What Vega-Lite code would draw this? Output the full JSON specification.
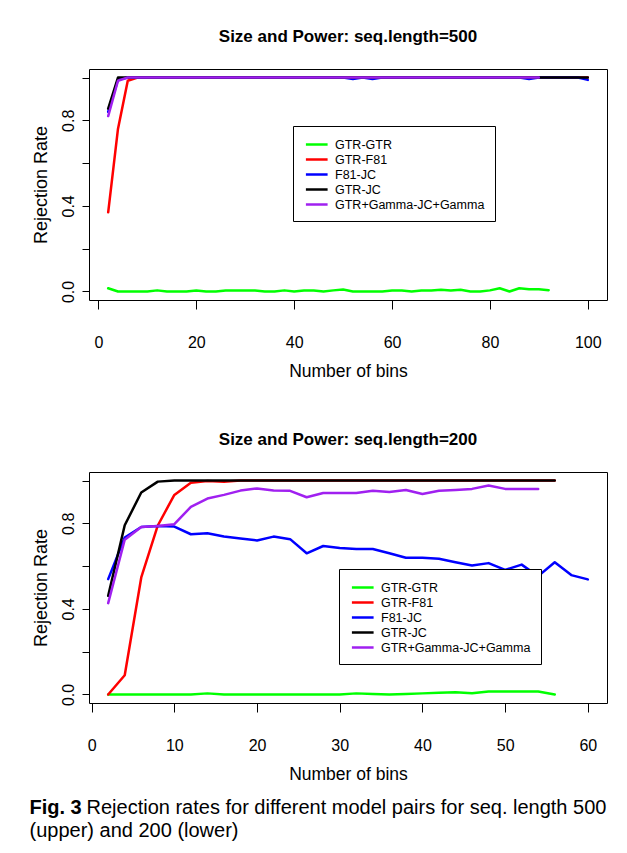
{
  "$schema": "https://vega.github.io/schema/vega-lite/v6.json",
  "padding": {"left": 29, "top": 27, "right": 5, "bottom": 5},
  "background": "white",
  "datasets": {
    "d500": [
      {"model": "GTR-GTR", "bins": 2, "rate": 0.015}, {"model": "GTR-GTR", "bins": 4, "rate": 0}, {"model": "GTR-GTR", "bins": 6, "rate": 0}, {"model": "GTR-GTR", "bins": 8, "rate": 0}, {"model": "GTR-GTR", "bins": 10, "rate": 0},
      {"model": "GTR-GTR", "bins": 12, "rate": 0.005}, {"model": "GTR-GTR", "bins": 14, "rate": 0}, {"model": "GTR-GTR", "bins": 16, "rate": 0}, {"model": "GTR-GTR", "bins": 18, "rate": 0}, {"model": "GTR-GTR", "bins": 20, "rate": 0.004},
      {"model": "GTR-GTR", "bins": 22, "rate": 0}, {"model": "GTR-GTR", "bins": 24, "rate": 0}, {"model": "GTR-GTR", "bins": 26, "rate": 0.004}, {"model": "GTR-GTR", "bins": 28, "rate": 0.004}, {"model": "GTR-GTR", "bins": 30, "rate": 0.004},
      {"model": "GTR-GTR", "bins": 32, "rate": 0.004}, {"model": "GTR-GTR", "bins": 34, "rate": 0}, {"model": "GTR-GTR", "bins": 36, "rate": 0}, {"model": "GTR-GTR", "bins": 38, "rate": 0.005}, {"model": "GTR-GTR", "bins": 40, "rate": 0},
      {"model": "GTR-GTR", "bins": 42, "rate": 0.004}, {"model": "GTR-GTR", "bins": 44, "rate": 0.004}, {"model": "GTR-GTR", "bins": 46, "rate": 0}, {"model": "GTR-GTR", "bins": 48, "rate": 0.005}, {"model": "GTR-GTR", "bins": 50, "rate": 0.009},
      {"model": "GTR-GTR", "bins": 52, "rate": 0}, {"model": "GTR-GTR", "bins": 54, "rate": 0}, {"model": "GTR-GTR", "bins": 56, "rate": 0}, {"model": "GTR-GTR", "bins": 58, "rate": 0}, {"model": "GTR-GTR", "bins": 60, "rate": 0.004},
      {"model": "GTR-GTR", "bins": 62, "rate": 0.004}, {"model": "GTR-GTR", "bins": 64, "rate": 0}, {"model": "GTR-GTR", "bins": 66, "rate": 0.004}, {"model": "GTR-GTR", "bins": 68, "rate": 0.004}, {"model": "GTR-GTR", "bins": 70, "rate": 0.008},
      {"model": "GTR-GTR", "bins": 72, "rate": 0.004}, {"model": "GTR-GTR", "bins": 74, "rate": 0.008}, {"model": "GTR-GTR", "bins": 76, "rate": 0}, {"model": "GTR-GTR", "bins": 78, "rate": 0}, {"model": "GTR-GTR", "bins": 80, "rate": 0.005},
      {"model": "GTR-GTR", "bins": 82, "rate": 0.015}, {"model": "GTR-GTR", "bins": 84, "rate": 0}, {"model": "GTR-GTR", "bins": 86, "rate": 0.015}, {"model": "GTR-GTR", "bins": 88, "rate": 0.01}, {"model": "GTR-GTR", "bins": 90, "rate": 0.01},
      {"model": "GTR-GTR", "bins": 92, "rate": 0.006},

      {"model": "GTR-F81", "bins": 2, "rate": 0.37}, {"model": "GTR-F81", "bins": 4, "rate": 0.76}, {"model": "GTR-F81", "bins": 6, "rate": 0.985}, {"model": "GTR-F81", "bins": 8, "rate": 1}, {"model": "GTR-F81", "bins": 10, "rate": 1},
      {"model": "GTR-F81", "bins": 20, "rate": 1}, {"model": "GTR-F81", "bins": 40, "rate": 1}, {"model": "GTR-F81", "bins": 60, "rate": 1}, {"model": "GTR-F81", "bins": 80, "rate": 1}, {"model": "GTR-F81", "bins": 100, "rate": 1},

      {"model": "F81-JC", "bins": 2, "rate": 0.84}, {"model": "F81-JC", "bins": 4, "rate": 0.99}, {"model": "F81-JC", "bins": 6, "rate": 1}, {"model": "F81-JC", "bins": 50, "rate": 1}, {"model": "F81-JC", "bins": 52, "rate": 0.993},
      {"model": "F81-JC", "bins": 54, "rate": 1}, {"model": "F81-JC", "bins": 56, "rate": 0.993}, {"model": "F81-JC", "bins": 58, "rate": 1}, {"model": "F81-JC", "bins": 86, "rate": 1}, {"model": "F81-JC", "bins": 88, "rate": 0.993},
      {"model": "F81-JC", "bins": 90, "rate": 1}, {"model": "F81-JC", "bins": 98, "rate": 1}, {"model": "F81-JC", "bins": 100, "rate": 0.989},

      {"model": "GTR-JC", "bins": 2, "rate": 0.855}, {"model": "GTR-JC", "bins": 4, "rate": 1}, {"model": "GTR-JC", "bins": 20, "rate": 1}, {"model": "GTR-JC", "bins": 40, "rate": 1}, {"model": "GTR-JC", "bins": 60, "rate": 1},
      {"model": "GTR-JC", "bins": 80, "rate": 1}, {"model": "GTR-JC", "bins": 100, "rate": 1},

      {"model": "GTR+Gamma-JC+Gamma", "bins": 2, "rate": 0.82}, {"model": "GTR+Gamma-JC+Gamma", "bins": 4, "rate": 0.985}, {"model": "GTR+Gamma-JC+Gamma", "bins": 6, "rate": 1}, {"model": "GTR+Gamma-JC+Gamma", "bins": 30, "rate": 1},
      {"model": "GTR+Gamma-JC+Gamma", "bins": 60, "rate": 1}, {"model": "GTR+Gamma-JC+Gamma", "bins": 90, "rate": 1}
    ],
    "d200": [
      {"model": "GTR-GTR", "bins": 2, "rate": 0}, {"model": "GTR-GTR", "bins": 4, "rate": 0}, {"model": "GTR-GTR", "bins": 6, "rate": 0}, {"model": "GTR-GTR", "bins": 8, "rate": 0}, {"model": "GTR-GTR", "bins": 10, "rate": 0},
      {"model": "GTR-GTR", "bins": 12, "rate": 0}, {"model": "GTR-GTR", "bins": 14, "rate": 0.005}, {"model": "GTR-GTR", "bins": 16, "rate": 0}, {"model": "GTR-GTR", "bins": 18, "rate": 0}, {"model": "GTR-GTR", "bins": 20, "rate": 0},
      {"model": "GTR-GTR", "bins": 22, "rate": 0}, {"model": "GTR-GTR", "bins": 24, "rate": 0}, {"model": "GTR-GTR", "bins": 26, "rate": 0}, {"model": "GTR-GTR", "bins": 28, "rate": 0}, {"model": "GTR-GTR", "bins": 30, "rate": 0},
      {"model": "GTR-GTR", "bins": 32, "rate": 0.005}, {"model": "GTR-GTR", "bins": 34, "rate": 0.002}, {"model": "GTR-GTR", "bins": 36, "rate": 0}, {"model": "GTR-GTR", "bins": 38, "rate": 0.002}, {"model": "GTR-GTR", "bins": 40, "rate": 0.005},
      {"model": "GTR-GTR", "bins": 42, "rate": 0.008}, {"model": "GTR-GTR", "bins": 44, "rate": 0.01}, {"model": "GTR-GTR", "bins": 46, "rate": 0.006}, {"model": "GTR-GTR", "bins": 48, "rate": 0.014}, {"model": "GTR-GTR", "bins": 50, "rate": 0.014},
      {"model": "GTR-GTR", "bins": 52, "rate": 0.014}, {"model": "GTR-GTR", "bins": 54, "rate": 0.014}, {"model": "GTR-GTR", "bins": 56, "rate": 0},

      {"model": "GTR-F81", "bins": 2, "rate": 0}, {"model": "GTR-F81", "bins": 4, "rate": 0.09}, {"model": "GTR-F81", "bins": 6, "rate": 0.547}, {"model": "GTR-F81", "bins": 8, "rate": 0.79}, {"model": "GTR-F81", "bins": 10, "rate": 0.933},
      {"model": "GTR-F81", "bins": 12, "rate": 0.99}, {"model": "GTR-F81", "bins": 14, "rate": 0.998}, {"model": "GTR-F81", "bins": 16, "rate": 0.994}, {"model": "GTR-F81", "bins": 18, "rate": 1}, {"model": "GTR-F81", "bins": 30, "rate": 1},
      {"model": "GTR-F81", "bins": 44, "rate": 1}, {"model": "GTR-F81", "bins": 56, "rate": 1},

      {"model": "F81-JC", "bins": 2, "rate": 0.539}, {"model": "F81-JC", "bins": 4, "rate": 0.734}, {"model": "F81-JC", "bins": 6, "rate": 0.783}, {"model": "F81-JC", "bins": 8, "rate": 0.788}, {"model": "F81-JC", "bins": 10, "rate": 0.785},
      {"model": "F81-JC", "bins": 12, "rate": 0.749}, {"model": "F81-JC", "bins": 14, "rate": 0.754}, {"model": "F81-JC", "bins": 16, "rate": 0.738}, {"model": "F81-JC", "bins": 18, "rate": 0.729}, {"model": "F81-JC", "bins": 20, "rate": 0.72},
      {"model": "F81-JC", "bins": 22, "rate": 0.738}, {"model": "F81-JC", "bins": 24, "rate": 0.726}, {"model": "F81-JC", "bins": 26, "rate": 0.66}, {"model": "F81-JC", "bins": 28, "rate": 0.694}, {"model": "F81-JC", "bins": 30, "rate": 0.685},
      {"model": "F81-JC", "bins": 32, "rate": 0.68}, {"model": "F81-JC", "bins": 34, "rate": 0.68}, {"model": "F81-JC", "bins": 36, "rate": 0.66}, {"model": "F81-JC", "bins": 38, "rate": 0.639}, {"model": "F81-JC", "bins": 40, "rate": 0.639},
      {"model": "F81-JC", "bins": 42, "rate": 0.634}, {"model": "F81-JC", "bins": 44, "rate": 0.618}, {"model": "F81-JC", "bins": 46, "rate": 0.603}, {"model": "F81-JC", "bins": 48, "rate": 0.614}, {"model": "F81-JC", "bins": 50, "rate": 0.582},
      {"model": "F81-JC", "bins": 52, "rate": 0.607}, {"model": "F81-JC", "bins": 54, "rate": 0.553}, {"model": "F81-JC", "bins": 56, "rate": 0.618}, {"model": "F81-JC", "bins": 58, "rate": 0.558}, {"model": "F81-JC", "bins": 60, "rate": 0.538},

      {"model": "GTR-JC", "bins": 2, "rate": 0.461}, {"model": "GTR-JC", "bins": 4, "rate": 0.791}, {"model": "GTR-JC", "bins": 6, "rate": 0.944}, {"model": "GTR-JC", "bins": 8, "rate": 0.995}, {"model": "GTR-JC", "bins": 10, "rate": 1},
      {"model": "GTR-JC", "bins": 30, "rate": 1}, {"model": "GTR-JC", "bins": 56, "rate": 1},

      {"model": "GTR+Gamma-JC+Gamma", "bins": 2, "rate": 0.427}, {"model": "GTR+Gamma-JC+Gamma", "bins": 4, "rate": 0.723}, {"model": "GTR+Gamma-JC+Gamma", "bins": 6, "rate": 0.783}, {"model": "GTR+Gamma-JC+Gamma", "bins": 8, "rate": 0.788},
      {"model": "GTR+Gamma-JC+Gamma", "bins": 10, "rate": 0.796}, {"model": "GTR+Gamma-JC+Gamma", "bins": 12, "rate": 0.877}, {"model": "GTR+Gamma-JC+Gamma", "bins": 14, "rate": 0.916}, {"model": "GTR+Gamma-JC+Gamma", "bins": 16, "rate": 0.933},
      {"model": "GTR+Gamma-JC+Gamma", "bins": 18, "rate": 0.953}, {"model": "GTR+Gamma-JC+Gamma", "bins": 20, "rate": 0.963}, {"model": "GTR+Gamma-JC+Gamma", "bins": 22, "rate": 0.953}, {"model": "GTR+Gamma-JC+Gamma", "bins": 24, "rate": 0.952},
      {"model": "GTR+Gamma-JC+Gamma", "bins": 26, "rate": 0.922}, {"model": "GTR+Gamma-JC+Gamma", "bins": 28, "rate": 0.942}, {"model": "GTR+Gamma-JC+Gamma", "bins": 30, "rate": 0.942}, {"model": "GTR+Gamma-JC+Gamma", "bins": 32, "rate": 0.942},
      {"model": "GTR+Gamma-JC+Gamma", "bins": 34, "rate": 0.952}, {"model": "GTR+Gamma-JC+Gamma", "bins": 36, "rate": 0.947}, {"model": "GTR+Gamma-JC+Gamma", "bins": 38, "rate": 0.956}, {"model": "GTR+Gamma-JC+Gamma", "bins": 40, "rate": 0.937},
      {"model": "GTR+Gamma-JC+Gamma", "bins": 42, "rate": 0.952}, {"model": "GTR+Gamma-JC+Gamma", "bins": 44, "rate": 0.956}, {"model": "GTR+Gamma-JC+Gamma", "bins": 46, "rate": 0.961}, {"model": "GTR+Gamma-JC+Gamma", "bins": 48, "rate": 0.977},
      {"model": "GTR+Gamma-JC+Gamma", "bins": 50, "rate": 0.961}, {"model": "GTR+Gamma-JC+Gamma", "bins": 52, "rate": 0.961}, {"model": "GTR+Gamma-JC+Gamma", "bins": 54, "rate": 0.961}
    ],
    "caption": [
      {"line": 1, "bold": "Fig. 3", "rest": "Rejection rates for different model pairs for seq. length 500"},
      {"line": 2, "bold": "", "rest": "(upper) and 200 (lower)"}
    ]
  },
  "vconcat": [
    {
      "vconcat": [
        {
          "title": {"text": "Size and Power: seq.length=500", "offset": 23},
          "width": 518,
          "height": 231,
          "data": {"name": "d500"},
          "mark": {"type": "line", "strokeWidth": 2.5, "strokeCap": "round", "strokeJoin": "round"},
          "encoding": {
            "x": {"field": "bins", "type": "quantitative", "scale": {"domain": [-1.92, 103.92], "nice": false, "zero": false},
                  "axis": {"values": [0, 20, 40, 60, 80, 100], "title": "Number of bins"}},
            "y": {"field": "rate", "type": "quantitative", "scale": {"domain": [-0.04, 1.04], "nice": false, "zero": false},
                  "axis": {"values": [0, 0.2, 0.4, 0.6, 0.8, 1], "format": ".1f", "labelExpr": "indexof(['0.0','0.4','0.8'], datum.label) >= 0 ? datum.label : ''", "title": "Rejection Rate"}},
            "color": {"field": "model", "type": "nominal",
                      "scale": {"domain": ["GTR-GTR", "GTR-F81", "F81-JC", "GTR-JC", "GTR+Gamma-JC+Gamma"], "range": ["#00ff00", "#ff0000", "#0000ff", "#000000", "#a020f0"]},
                      "legend": {"orient": "none", "legendX": 204, "legendY": 57}}
          }
        },
        {
          "title": {"text": "Size and Power: seq.length=200", "offset": 23},
          "width": 518,
          "height": 231,
          "data": {"name": "d200"},
          "mark": {"type": "line", "strokeWidth": 2.5, "strokeCap": "round", "strokeJoin": "round"},
          "encoding": {
            "x": {"field": "bins", "type": "quantitative", "scale": {"domain": [-0.32, 62.32], "nice": false, "zero": false},
                  "axis": {"values": [0, 10, 20, 30, 40, 50, 60], "title": "Number of bins"}},
            "y": {"field": "rate", "type": "quantitative", "scale": {"domain": [-0.04, 1.04], "nice": false, "zero": false},
                  "axis": {"values": [0, 0.2, 0.4, 0.6, 0.8, 1], "format": ".1f", "labelExpr": "indexof(['0.0','0.4','0.8'], datum.label) >= 0 ? datum.label : ''", "title": "Rejection Rate"}},
            "color": {"field": "model", "type": "nominal",
                      "scale": {"domain": ["GTR-GTR", "GTR-F81", "F81-JC", "GTR-JC", "GTR+Gamma-JC+Gamma"], "range": ["#00ff00", "#ff0000", "#0000ff", "#000000", "#a020f0"]},
                      "legend": {"orient": "none", "legendX": 250, "legendY": 97}}
          }
        }
      ],
      "spacing": 50,
      "resolve": {"scale": {"color": "independent"}, "legend": {"color": "independent"}}
    },
    {
      "width": 1,
      "height": 23,
      "data": {"name": "caption"},
      "layer": [
        {
          "mark": {"type": "text", "align": "left", "baseline": "alphabetic", "dx": -60, "fontWeight": "bold", "font": "Liberation Sans, Arial, sans-serif", "fontSize": 20, "color": "black"},
          "encoding": {
            "y": {"field": "line", "type": "ordinal", "scale": {"padding": 0}, "axis": null},
            "text": {"field": "bold"}
          }
        },
        {
          "transform": [{"filter": "datum.line == 1"}],
          "mark": {"type": "text", "align": "left", "baseline": "alphabetic", "dx": -3, "font": "Liberation Sans, Arial, sans-serif", "fontSize": 20, "color": "black"},
          "encoding": {
            "y": {"field": "line", "type": "ordinal", "scale": {"padding": 0}, "axis": null},
            "text": {"field": "rest"}
          }
        },
        {
          "transform": [{"filter": "datum.line == 2"}],
          "mark": {"type": "text", "align": "left", "baseline": "alphabetic", "dx": -60, "font": "Liberation Sans, Arial, sans-serif", "fontSize": 20, "color": "black"},
          "encoding": {
            "y": {"field": "line", "type": "ordinal", "scale": {"padding": 0}, "axis": null},
            "text": {"field": "rest"}
          }
        }
      ],
      "view": {"stroke": null}
    }
  ],
  "spacing": 15,
  "config": {
    "font": "Liberation Sans, Arial, sans-serif",
    "view": {"stroke": "black", "strokeWidth": 1},
    "title": {"font": "Liberation Sans, Arial, sans-serif", "fontSize": 17, "fontWeight": "bold", "color": "black", "anchor": "middle"},
    "axis": {
      "domain": false, "grid": false, "tickColor": "black", "labelColor": "black", "titleColor": "black",
      "labelFont": "Liberation Sans, Arial, sans-serif", "titleFont": "Liberation Sans, Arial, sans-serif",
      "labelFontSize": 16, "titleFontSize": 17.5, "titleFontWeight": "normal"
    },
    "axisX": {"tickSize": 9, "labelPadding": 25, "titlePadding": 12},
    "axisY": {"tickSize": 7, "labelAngle": -90, "labelAlign": "center", "labelBaseline": "bottom", "labelPadding": 6, "titlePadding": 10, "titleFontSize": 18},
    "legend": {
      "title": null, "strokeColor": "black", "fillColor": "white", "padding": 10, "cornerRadius": 0,
      "symbolType": "M-0.8,0H2.3", "symbolSize": 196, "symbolStrokeWidth": 2.5, "labelOffset": 15,
      "labelFont": "Liberation Sans, Arial, sans-serif", "labelFontSize": 12.5, "labelColor": "black", "rowPadding": 0, "labelLimit": 300
    }
  }
}
